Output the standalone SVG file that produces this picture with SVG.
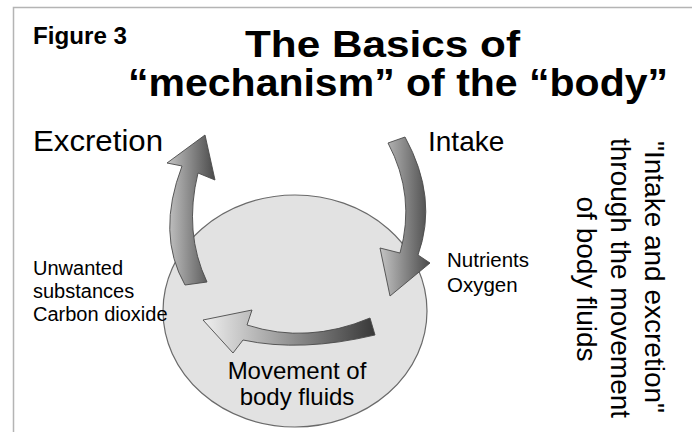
<svg xmlns="http://www.w3.org/2000/svg" width="692" height="432" viewBox="0 0 692 432">
<defs>
<style>
.t{font-family:"Liberation Sans",Arial,sans-serif;fill:#000}
.b{font-weight:bold}
.arr{stroke:#4a4a4a;stroke-width:0.9;stroke-linejoin:miter}
</style>
<linearGradient id="gA" x1="0" y1="0" x2="1" y2="0">
<stop offset="0" stop-color="#c4c4c4"/>
<stop offset="1" stop-color="#4a4a4a"/>
</linearGradient>
<linearGradient id="gM" x1="0" y1="0" x2="1" y2="0">
<stop offset="0" stop-color="#efefef"/>
<stop offset="1" stop-color="#383838"/>
</linearGradient>
</defs>
<rect width="692" height="432" fill="#fff"/>
<g id="frame" fill="none" stroke="#b4b4b4" stroke-width="1.5">
<path d="M13.5,432 V7.5 H692"/>
</g>
<g id="title">
<text class="t b" x="33" y="44" font-size="23" textLength="94" lengthAdjust="spacingAndGlyphs">Figure 3</text>
<text class="t b" x="245" y="57" font-size="36" textLength="275" lengthAdjust="spacingAndGlyphs">The Basics of</text>
<text class="t b" x="128" y="96" font-size="38" textLength="540" lengthAdjust="spacingAndGlyphs">“mechanism” of the “body”</text>
</g>
<g id="body">
<ellipse cx="295" cy="311" rx="132" ry="116" fill="#e2e2e2" stroke="#6a6a6a" stroke-width="1.2"/>
</g>
<g id="connectors">
<path id="excretion-arrow" class="arr" fill="url(#gA)" d="M185,285 Q156,234 182,166 L167,163 L205,135 L215,180 L198,173 Q183.5,232.5 207,282 Z"/>
<path id="intake-arrow" class="arr" fill="url(#gA)" d="M388,143 Q416,196 400,253 L380,248 L390,296 L430,263 L418,255 Q438.5,198 405,137 Z"/>
<path id="movement-arrow" class="arr" fill="url(#gM)" d="M370,318 Q307.5,344.5 247,325 L252,310 L203,320 L233,353 L243,340 Q301,352.5 375,335 Z"/>
</g>
<g id="excretion">
<text class="t" x="33" y="151" font-size="29" textLength="130" lengthAdjust="spacingAndGlyphs">Excretion</text>
</g>
<g id="intake">
<text class="t" x="428" y="151" font-size="28">Intake</text>
</g>
<g id="unwanted">
<text class="t" x="33" y="275" font-size="20">Unwanted</text>
<text class="t" x="33" y="298" font-size="20">substances</text>
<text class="t" x="33" y="321" font-size="20">Carbon dioxide</text>
</g>
<g id="nutrients">
<text class="t" x="447" y="267" font-size="20.5">Nutrients</text>
<text class="t" x="447" y="292" font-size="20.5">Oxygen</text>
</g>
<g id="movement">
<text class="t" x="297" y="379" font-size="24" text-anchor="middle">Movement of</text>
<text class="t" x="297" y="405" font-size="24" text-anchor="middle">body fluids</text>
</g>
<g id="caption" font-size="28" text-anchor="middle">
<text class="t" transform="translate(645,277) rotate(90)">"Intake and excretion"</text>
<text class="t" transform="translate(611,278) rotate(90)">through the movement</text>
<text class="t" transform="translate(577,279) rotate(90)">of body fluids</text>
</g>
</svg>
